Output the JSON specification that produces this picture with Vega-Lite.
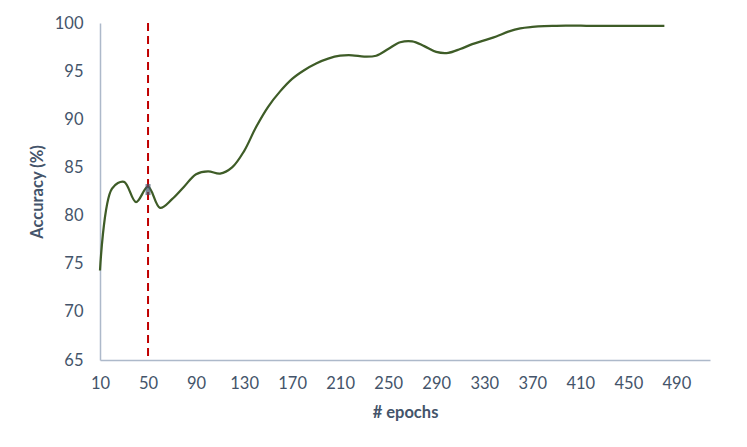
{
  "$schema": "https://vega.github.io/schema/vega-lite/v6.json",
  "autosize": "none",
  "padding": {"left": 100, "top": 23, "right": 37, "bottom": 87},
  "width": 610,
  "height": 337,
  "config": {
    "view": {"stroke": null},
    "font": "Lato",
    "axis": {
      "grid": false,
      "ticks": false,
      "labelFlush": false,
      "labelOverlap": false,
      "domainColor": "#ADB9CA",
      "domainWidth": 1.5,
      "labelColor": "#44546A",
      "labelFontSize": 16.5,
      "titleColor": "#44546A",
      "titleFontSize": 16.5,
      "titleFontWeight": "bold"
    }
  },
  "datasets": {
    "acc": [
      {"epoch": 10, "accuracy": 74.3},
      {"epoch": 20, "accuracy": 82.8},
      {"epoch": 30, "accuracy": 83.5},
      {"epoch": 40, "accuracy": 81.4},
      {"epoch": 50, "accuracy": 83.0},
      {"epoch": 60, "accuracy": 80.8},
      {"epoch": 70, "accuracy": 81.7},
      {"epoch": 80, "accuracy": 83.0},
      {"epoch": 90, "accuracy": 84.3},
      {"epoch": 100, "accuracy": 84.6},
      {"epoch": 110, "accuracy": 84.35},
      {"epoch": 120, "accuracy": 85.0},
      {"epoch": 130, "accuracy": 86.7},
      {"epoch": 140, "accuracy": 89.2},
      {"epoch": 150, "accuracy": 91.3},
      {"epoch": 160, "accuracy": 92.9},
      {"epoch": 170, "accuracy": 94.2},
      {"epoch": 180, "accuracy": 95.1},
      {"epoch": 190, "accuracy": 95.8},
      {"epoch": 200, "accuracy": 96.3},
      {"epoch": 210, "accuracy": 96.6},
      {"epoch": 220, "accuracy": 96.65},
      {"epoch": 230, "accuracy": 96.5},
      {"epoch": 240, "accuracy": 96.6},
      {"epoch": 250, "accuracy": 97.3},
      {"epoch": 260, "accuracy": 98.0},
      {"epoch": 270, "accuracy": 98.1},
      {"epoch": 280, "accuracy": 97.6},
      {"epoch": 290, "accuracy": 97.0},
      {"epoch": 300, "accuracy": 96.9},
      {"epoch": 310, "accuracy": 97.3},
      {"epoch": 320, "accuracy": 97.8},
      {"epoch": 330, "accuracy": 98.2},
      {"epoch": 340, "accuracy": 98.6},
      {"epoch": 350, "accuracy": 99.1},
      {"epoch": 360, "accuracy": 99.45},
      {"epoch": 370, "accuracy": 99.6},
      {"epoch": 380, "accuracy": 99.68},
      {"epoch": 390, "accuracy": 99.7},
      {"epoch": 400, "accuracy": 99.72},
      {"epoch": 410, "accuracy": 99.72},
      {"epoch": 420, "accuracy": 99.7},
      {"epoch": 430, "accuracy": 99.7},
      {"epoch": 440, "accuracy": 99.7},
      {"epoch": 450, "accuracy": 99.7},
      {"epoch": 460, "accuracy": 99.7},
      {"epoch": 470, "accuracy": 99.7},
      {"epoch": 480, "accuracy": 99.7}
    ],
    "marker": [{"epoch": 50, "accuracy": 82.7}],
    "cut": [{"epoch": 50}]
  },
  "layer": [
    {
      "data": {"name": "acc"},
      "mark": {"type": "line", "interpolate": "catmull-rom", "color": "#3E5C27", "strokeWidth": 2.25},
      "encoding": {
        "x": {
          "field": "epoch", "type": "quantitative",
          "scale": {"domain": [10, 518], "nice": false, "zero": false},
          "axis": {"values": [10, 50, 90, 130, 170, 210, 250, 290, 330, 370, 410, 450, 490], "title": "# epochs", "labelPadding": 15, "titlePadding": 13}
        },
        "y": {
          "field": "accuracy", "type": "quantitative",
          "scale": {"domain": [65, 100], "nice": false, "zero": false},
          "axis": {"values": [65, 70, 75, 80, 85, 90, 95, 100], "title": "Accuracy (%)", "labelPadding": 17, "titlePadding": 9}
        }
      }
    },
    {
      "data": {"name": "cut"},
      "mark": {"type": "rule", "color": "#C00000", "strokeWidth": 2, "strokeDash": [8, 5]},
      "encoding": {"x": {"field": "epoch", "type": "quantitative"}}
    },
    {
      "data": {"name": "marker"},
      "mark": {"type": "tick", "orient": "vertical", "color": "#44546A", "thickness": 5, "size": 11},
      "encoding": {
        "x": {"field": "epoch", "type": "quantitative"},
        "y": {"field": "accuracy", "type": "quantitative"}
      }
    }
  ]
}
